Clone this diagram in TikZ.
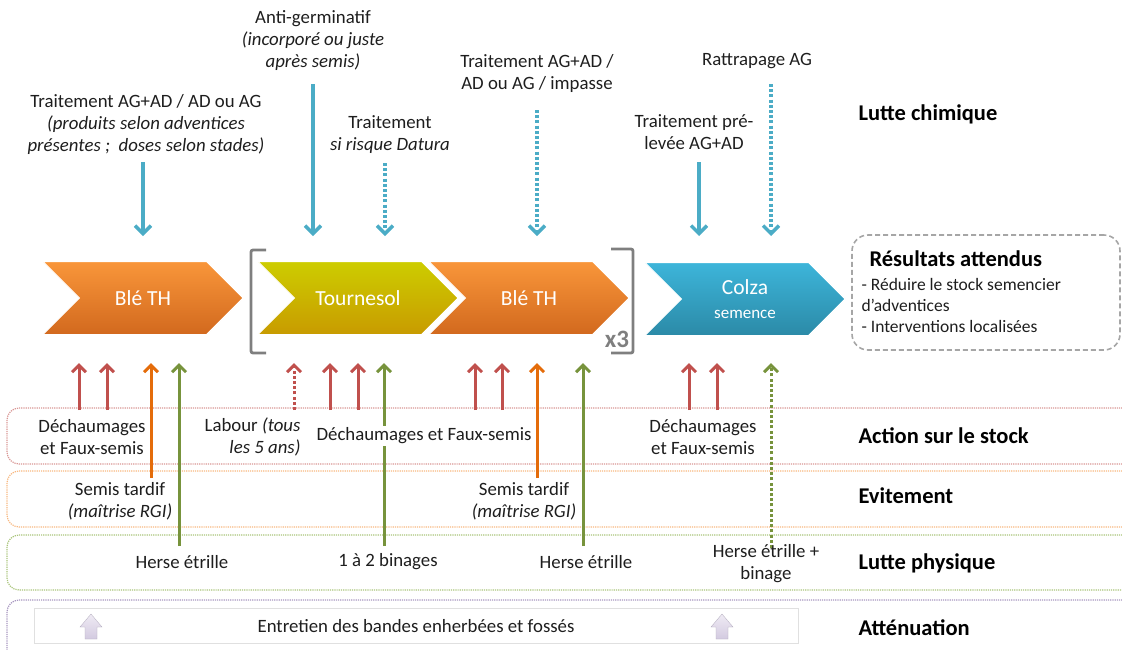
\documentclass[tikz,border=0pt]{standalone}
\usepackage{fontspec}
\setmainfont{Carlito}
\usetikzlibrary{shapes,arrows.meta,positioning}

\definecolor{txt}{HTML}{1E1E1E}
\definecolor{chemblue}{HTML}{4BACC6}
\definecolor{stockred}{HTML}{C0504D}
\definecolor{evitorange}{HTML}{E46C0A}
\definecolor{physgreen}{HTML}{77933C}
\definecolor{brk}{HTML}{7F7F7F}
\definecolor{bleTop}{HTML}{F9963A}
\definecolor{bleBot}{HTML}{D2691E}
\definecolor{tourTop}{HTML}{CDCD00}
\definecolor{tourBot}{HTML}{C89B00}
\definecolor{colTop}{HTML}{3DB5DA}
\definecolor{colBot}{HTML}{2B8AA7}
\definecolor{stockline}{HTML}{D99694}
\definecolor{evitline}{HTML}{F8B880}
\definecolor{physline}{HTML}{A9C47A}
\definecolor{attline}{HTML}{A796C0}
\definecolor{iconTop}{HTML}{EFEBF4}
\definecolor{iconBot}{HTML}{D3CAE0}

\begin{document}
\begin{tikzpicture}[x=1pt, y=-1pt,
    note/.style={align=center, text=txt, font=\fontsize{18.8}{22}\selectfont},
    cat/.style={anchor=west, text=black, font=\fontsize{22.5}{24}\selectfont\bfseries},
    chevron/.style={shape=signal, signal from=west, signal to=east, minimum width=200pt, minimum height=73pt, inner sep=0pt, text=white, draw=white, line width=1pt, font=\fontsize{21.5}{24}\selectfont},
    chem/.style={line width=3.5pt, draw=chemblue, -{Straight Barb[length=8pt, width=16pt]}},
    chemdot/.style={chem, dash pattern=on 3pt off 2.2pt},
    stock/.style={line width=3pt, draw=stockred, -{Straight Barb[length=7pt, width=14pt]}},
    evit/.style={stock, draw=evitorange},
    phys/.style={stock, draw=physgreen},
    band/.style={rounded corners=12pt, densely dotted, line width=1.2pt, fill=white, minimum width=1134pt},
    bracket/.style={draw=brk, line width=2.8pt, rounded corners=2pt},
    icon/.style={top color=iconTop, bottom color=iconBot, draw=iconBot!85!black, line width=0.3pt}
]
\useasboundingbox (0,0) rectangle (1122,649);

% Bands
\node[band, draw=stockline, minimum height=56pt] (stockband) at (574,436) {};
\node[band, draw=evitline, minimum height=56pt] (evitband) at (574,499) {};
\node[band, draw=physline, minimum height=55pt] (physband) at (574,562.5) {};
\node[band, draw=attline, minimum height=66pt] (attband) at (574,633) {};

% Category labels
\node[cat] (lchim) at (855,114) {Lutte chimique};
\node[cat] (lstock) at (855,436) {Action sur le stock};
\node[cat] (levit) at (855,496) {Evitement};
\node[cat] (lphys) at (855,563) {Lutte physique};
\node[cat] (latt) at (855,628) {Atténuation};

% Rotation
\node[chevron, top color=bleTop, bottom color=bleBot] (ble1) at (143,298) {Blé TH};
\node[chevron, top color=tourTop, bottom color=tourBot] (tourn) at (358,298) {Tournesol};
\node[chevron, top color=bleTop, bottom color=bleBot] (ble2) at (529,298) {Blé TH};
\node[chevron, top color=colTop, bottom color=colBot, align=center] (colza) at (745,299) {Colza\\{\fontsize{17}{24}\selectfont semence}};

% Repetition bracket
\draw[bracket] (266,250) -- (251,250) -- (251,353) -- (266,353);
\draw[bracket] (611,249) -- (633,249) -- (633,353) -- (611,353);
\node[text=brk, font=\fontsize{25}{26}\selectfont\bfseries] (rep) at (617,339) {x3};

% Expected results
\node[draw=black!35, dash pattern=on 5pt off 3pt, line width=1.6pt, rounded corners=16pt, minimum width=268pt, minimum height=115pt] (res) at (986,292.5) {};
\node[anchor=west, text=black, font=\fontsize{22.5}{24}\selectfont\bfseries] (restitle) at (866,259) {Résultats attendus};
\node[anchor=north west, align=left, text=txt, font=\fontsize{17.5}{21}\selectfont] (reslist) at (858,275) {- Réduire le stock semencier\\d’adventices\\- Interventions localisées};

% Chemical control
\node[note] (n1) at (146,124) {Traitement AG+AD / AD ou AG\\\textit{(produits selon adventices}\\\textit{présentes ;~ doses selon stades)}};
\node[note] (n2) at (313,41) {Anti-germinatif\\\textit{(incorporé ou juste}\\\textit{après semis)}};
\node[note] (n3) at (390,135) {Traitement\\\textit{si risque Datura}};
\node[note] (n4) at (537,73) {Traitement AG+AD /\\AD ou AG / impasse};
\node[note] (n5) at (757,61) {Rattrapage AG};
\node[note] (n6) at (694,132) {Traitement pré-\\levée AG+AD};

\coordinate (c1) at (143,162);  \coordinate (c1e) at (143,236);
\coordinate (c2) at (313,84);   \coordinate (c2e) at (313,236);
\coordinate (c3) at (385,163);  \coordinate (c3e) at (385,236);
\coordinate (c4) at (537,110);  \coordinate (c4e) at (537,236);
\coordinate (c5) at (699,162);  \coordinate (c5e) at (699,236);
\coordinate (c6) at (771,84);   \coordinate (c6e) at (771,236);
\draw[chem] (c1) -- (c1e);
\draw[chem] (c2) -- (c2e);
\draw[chemdot] (c3) -- (c3e);
\draw[chemdot] (c4) -- (c4e);
\draw[chem] (c5) -- (c5e);
\draw[chemdot] (c6) -- (c6e);

% Arrows from the levers
\coordinate (s1) at (79,410);   \coordinate (s1e) at (79,363);
\coordinate (s2) at (107,410);  \coordinate (s2e) at (107,363);
\coordinate (s3) at (294,410);  \coordinate (s3e) at (294,363);
\coordinate (s4) at (330,410);  \coordinate (s4e) at (330,363);
\coordinate (s5) at (358,410);  \coordinate (s5e) at (358,363);
\coordinate (s6) at (475,410);  \coordinate (s6e) at (475,363);
\coordinate (s7) at (502,410);  \coordinate (s7e) at (502,363);
\coordinate (s8) at (689,410);  \coordinate (s8e) at (689,363);
\coordinate (s9) at (717,410);  \coordinate (s9e) at (717,363);
\coordinate (e1) at (151,478);  \coordinate (e1e) at (151,363);
\coordinate (e2) at (537,478);  \coordinate (e2e) at (537,363);
\coordinate (p1) at (179,546);  \coordinate (p1e) at (179,363);
\coordinate (p2) at (384,546);  \coordinate (p2e) at (384,363);
\coordinate (p3) at (583,546);  \coordinate (p3e) at (583,363);
\coordinate (p4) at (771,548);  \coordinate (p4e) at (771,363);
\draw[stock] (s1) -- (s1e);
\draw[stock] (s2) -- (s2e);
\draw[stock, dash pattern=on 3pt off 2.2pt] (s3) -- (s3e);
\draw[stock] (s4) -- (s4e);
\draw[stock] (s5) -- (s5e);
\draw[stock] (s6) -- (s6e);
\draw[stock] (s7) -- (s7e);
\draw[stock] (s8) -- (s8e);
\draw[stock] (s9) -- (s9e);
\draw[evit] (e1) -- (e1e);
\draw[evit] (e2) -- (e2e);
\draw[phys] (p1) -- (p1e);
\draw[phys] (p2) -- (p2e);
\draw[phys] (p3) -- (p3e);
\draw[phys, dash pattern=on 3pt off 2.2pt] (p4) -- (p4e);

% Action sur le stock
\node[note] (d1) at (92,437) {Déchaumages\\et Faux-semis};
\node[note, anchor=east, align=right] (lab) at (304,437) {Labour \textit{(tous}\\\textit{les 5 ans)}};
\node[note, fill=white, inner sep=2pt] (d2) at (424,436) {Déchaumages et Faux-semis};
\node[note] (d3) at (703,437) {Déchaumages\\et Faux-semis};

% Evitement
\node[note] (st1) at (120,501) {Semis tardif\\\textit{(maîtrise RGI)}};
\node[note] (st2) at (524,501) {Semis tardif\\\textit{(maîtrise RGI)}};

% Lutte physique
\node[note] (h1) at (182,562) {Herse étrille};
\node[note] (h2) at (388,562) {1 à 2 binages};
\node[note] (h3) at (586,562) {Herse étrille};
\node[note] (h4) at (766,564) {Herse étrille +\\binage};

% Attenuation
\node[draw=black!12, line width=1pt, fill=white, minimum width=764pt, minimum height=35pt, note] (entr) at (416,626) {Entretien des bandes enherbées et fossés};
\coordinate (ic1) at (91,627);
\coordinate (ic2) at (722,627);
\path[icon] (ic1) ++(-6,12) -- ++(0,-12) -- ++(-5,0) -- ++(11,-13) -- ++(11,13) -- ++(-5,0) -- ++(0,12) -- cycle;
\path[icon] (ic2) ++(-6,12) -- ++(0,-12) -- ++(-5,0) -- ++(11,-13) -- ++(11,13) -- ++(-5,0) -- ++(0,12) -- cycle;

\end{tikzpicture}
\end{document}
